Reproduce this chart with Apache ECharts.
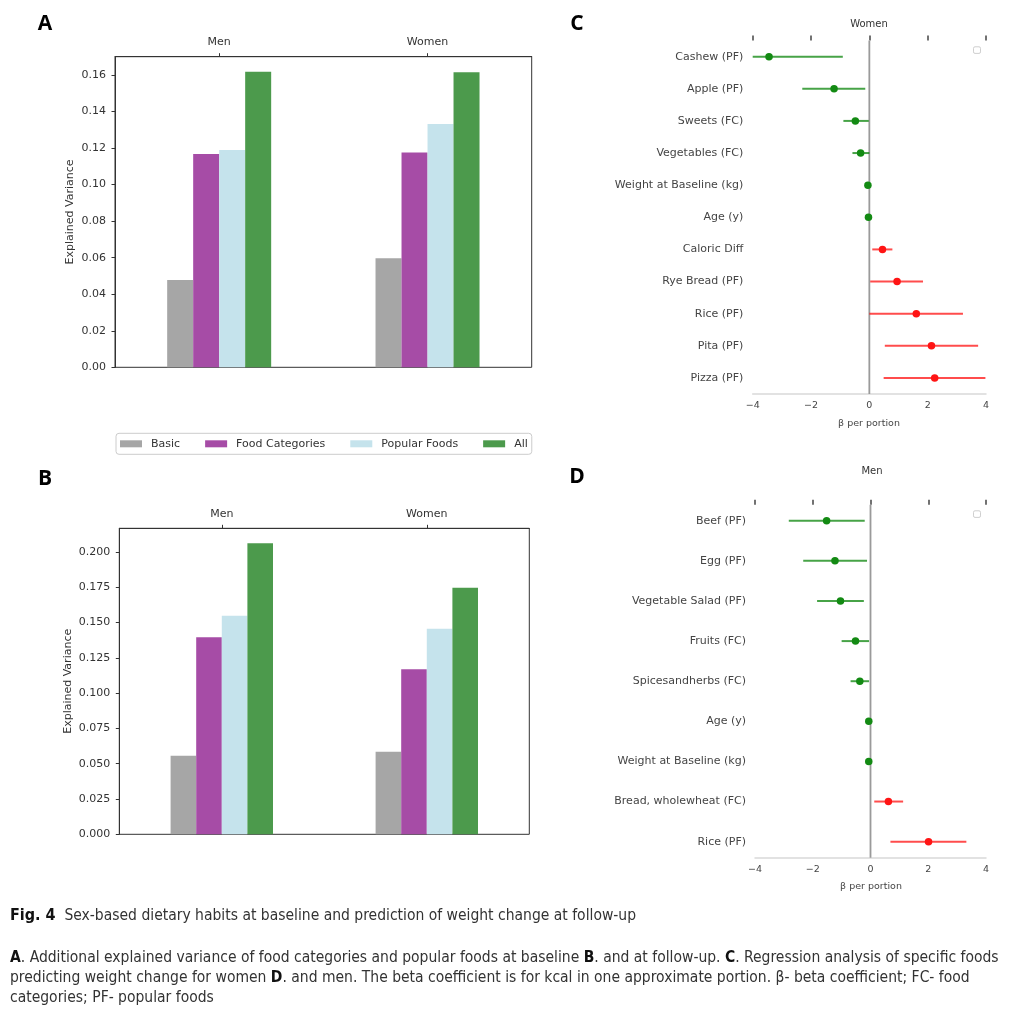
<!DOCTYPE html>
<html>
<head>
<meta charset="utf-8">
<script src="https://cdn.jsdelivr.net/npm/echarts@6/dist/echarts.min.js"></script>
<style>
html,body{margin:0;padding:0;background:#fff;}
#chart{width:1024px;height:1019px;}
</style>
</head>
<body>
<div id="chart"></div>
<script>
// ---------- data ----------
const groups = ['Men', 'Women'];
const seriesNames = ['Basic', 'Food Categories', 'Popular Foods', 'All'];

// Panel A: baseline explained variance
const baselineBasic = [0.0478, 0.0597];
const baselineFoodCategories = [0.1168, 0.1175];
const baselinePopularFoods = [0.1189, 0.1332];
const baselineAll = [0.1618, 0.1615];
const baselineTicks = [0, 0.02, 0.04, 0.06, 0.08, 0.10, 0.12, 0.14, 0.16];

// Panel B: follow-up explained variance
const followupBasic = [0.0557, 0.0585];
const followupFoodCategories = [0.1396, 0.1169];
const followupPopularFoods = [0.1549, 0.1457];
const followupAll = [0.2062, 0.1747];
const followupTicks = [0, 0.025, 0.05, 0.075, 0.1, 0.125, 0.15, 0.175, 0.2];

// Panel C: women regression
const womenFoods = ['Cashew (PF)', 'Apple (PF)', 'Sweets (FC)', 'Vegetables (FC)', 'Weight at Baseline (kg)', 'Age (y)', 'Caloric Diff', 'Rye Bread (PF)', 'Rice (PF)', 'Pita (PF)', 'Pizza (PF)'];
const womenBeta = [-3.44, -1.21, -0.48, -0.30, -0.05, -0.03, 0.45, 0.95, 1.61, 2.13, 2.24];
const womenLow = [-4.00, -2.30, -0.89, -0.58, -0.07, -0.05, 0.10, 0.03, 0.00, 0.53, 0.49];
const womenHigh = [-0.91, -0.14, -0.02, 0.00, -0.03, -0.01, 0.79, 1.84, 3.21, 3.73, 3.98];

// Panel D: men regression
const menFoods = ['Beef (PF)', 'Egg (PF)', 'Vegetable Salad (PF)', 'Fruits (FC)', 'Spicesandherbs (FC)', 'Age (y)', 'Weight at Baseline (kg)', 'Bread, wholewheat (FC)', 'Rice (PF)'];
const menBeta = [-1.52, -1.23, -1.04, -0.52, -0.37, -0.06, -0.06, 0.62, 2.01];
const menLow = [-2.83, -2.33, -1.85, -1.00, -0.69, -0.08, -0.08, 0.13, 0.69];
const menHigh = [-0.20, -0.12, -0.23, -0.05, -0.05, -0.04, -0.04, 1.13, 3.32];

const betaTicks = [-4, -2, 0, 2, 4];
const womenRowRange = [-0.5, 10.5];
const menRowRange = [-0.4, 8.4];

// ---------- style ----------
const FF = 'DejaVu Sans';
const barColors = ['#a6a6a6', '#a64ca6', '#c5e3ec', '#4c9a4c'];
const GREEN_DOT = '#138a13', GREEN_LINE = 'rgba(0,128,0,0.72)';
const RED_DOT = '#ff1414', RED_LINE = 'rgba(255,0,0,0.7)';

const chart = echarts.init(document.getElementById('chart'), null, {renderer: 'canvas'});

function catAxis(gi) {
  return {
    gridIndex: gi, type: 'category', data: groups, position: 'top',
    axisLine: {show: true, onZero: false, lineStyle: {color: '#333', width: 1}},
    axisTick: {show: true, alignWithLabel: true, length: 3.5, lineStyle: {color: '#333'}},
    axisLabel: {color: '#333', fontSize: 11, fontFamily: FF, margin: 9},
    splitLine: {show: false}
  };
}
function varAxis(gi, max, interval, ticks, dec) {
  return {
    gridIndex: gi, type: 'value', min: 0, max: max, interval: interval,
    axisLine: {show: true, onZero: false, lineStyle: {color: '#333', width: 1}},
    axisTick: {show: true, length: 3.5, lineStyle: {color: '#333'}, customValues: ticks},
    axisLabel: {color: '#333', fontSize: 11, fontFamily: FF, margin: 9, customValues: ticks,
      formatter: v => Number(v).toFixed(dec)},
    splitLine: {show: false}
  };
}
function betaAxes(gi) {
  return [{
    gridIndex: gi, type: 'value', min: -4, max: 4, interval: 2, position: 'bottom',
    axisLine: {show: true, onZero: false, lineStyle: {color: '#d9d9d9', width: 1.5}},
    axisTick: {show: false},
    axisLabel: {color: '#444', fontSize: 9.5, fontFamily: FF, margin: 7, customValues: betaTicks,
      formatter: v => String(v).replace('-', '\u2212')},
    splitLine: {show: false}
  }, {
    gridIndex: gi, type: 'value', min: -4, max: 4, interval: 2, position: 'top',
    axisLine: {show: false, onZero: false},
    axisTick: {show: true, length: 5, lineStyle: {color: '#444', width: 1.5}, customValues: betaTicks},
    axisLabel: {show: false},
    splitLine: {show: false}
  }];
}
function rowAxis(gi, names, range, margin) {
  return {
    gridIndex: gi, type: 'value', min: range[0], max: range[1], inverse: true,
    axisLine: {show: false, onZero: false}, axisTick: {show: false},
    axisLabel: {color: '#444', fontSize: 11, fontFamily: FF, margin: margin,
      customValues: names.map((_, i) => i),
      formatter: v => (names[Math.round(v)] || '')},
    splitLine: {show: false}
  };
}
function barSeries(ax, arrays, width) {
  return arrays.map((arr, k) => ({
    name: seriesNames[k], type: 'bar', xAxisIndex: ax, yAxisIndex: ax,
    data: arr, barWidth: width, barGap: '0%',
    itemStyle: {color: barColors[k]}
  }));
}
function errRender(params, api) {
  const y = api.value(2);
  const p1 = api.coord([api.value(0), y]);
  const p2 = api.coord([api.value(1), y]);
  return {
    type: 'line',
    shape: {x1: p1[0], y1: p1[1], x2: p2[0], y2: p2[1]},
    style: {stroke: api.value(3) > 0 ? RED_LINE : GREEN_LINE, lineWidth: 2}
  };
}
function forestSeries(xa, ya, names, beta, low, high, range) {
  return [{
    type: 'line', xAxisIndex: xa, yAxisIndex: ya, z: 1, silent: true,
    data: [[0, range[0]], [0, range[1]]], symbol: 'none',
    lineStyle: {color: '#9a9a9a', width: 1.8}
  }, {
    type: 'custom', xAxisIndex: xa, yAxisIndex: ya, z: 2,
    renderItem: errRender, encode: {x: 0, y: 2},
    data: names.map((_, i) => [low[i], high[i], i, beta[i]])
  }, {
    type: 'scatter', xAxisIndex: xa, yAxisIndex: ya, z: 3,
    symbolSize: 7.5,
    data: names.map((_, i) => [beta[i], i]),
    itemStyle: {opacity: 1, color: p => (p.value[0] > 0 ? RED_DOT : GREEN_DOT)}
  }];
}

function txt(text, x, y, size, opts) {
  opts = opts || {};
  return {
    type: 'text', x: x, y: y, rotation: opts.rotation || 0, silent: true,
    style: {
      text: text, fontSize: size, fontFamily: opts.family || FF,
      fontWeight: opts.weight || 'normal', fill: opts.fill || '#333',
      textAlign: opts.align || 'center', textVerticalAlign: 'middle',
      rich: opts.rich
    }
  };
}

const capFont = '"DejaVu Sans Condensed", "Liberation Sans Narrow", sans-serif';
const CAP = 15.5;
const capRich = {
  b: {fontWeight: 'bold', fontFamily: capFont, fontSize: CAP, fill: '#111'},
  f: {fontWeight: 'bold', fontFamily: capFont, fontSize: 16, fill: '#111'}
};

const option = {
  animation: false,
  backgroundColor: '#fff',
  textStyle: {fontFamily: FF},
  grid: [
    {left: 115, top: 56.7, width: 416.7, height: 310.6, show: true, borderColor: '#333', borderWidth: 1, backgroundColor: 'transparent', outerBoundsMode: 'none'},
    {left: 119.3, top: 528.3, width: 410, height: 306, show: true, borderColor: '#333', borderWidth: 1, backgroundColor: 'transparent', outerBoundsMode: 'none'},
    {left: 752.7, top: 40.6, width: 233.3, height: 353.4, outerBoundsMode: 'none'},
    {left: 755, top: 504.7, width: 231, height: 353, outerBoundsMode: 'none'}
  ],
  xAxis: [catAxis(0), catAxis(1)].concat(betaAxes(2), betaAxes(3)),
  yAxis: [
    varAxis(0, 0.17, 0.02, baselineTicks, 2),
    varAxis(1, 0.2168, 0.025, followupTicks, 3),
    rowAxis(2, womenFoods, womenRowRange, 9.4),
    rowAxis(3, menFoods, menRowRange, 9)
  ],
  legend: {
    data: seriesNames, left: 116, top: 433.3, orient: 'horizontal',
    icon: 'rect', itemWidth: 22, itemHeight: 7, itemGap: 25,
    padding: [5, 4, 5, 4], borderColor: '#cccccc', borderWidth: 1, borderRadius: 3,
    backgroundColor: '#fff',
    textStyle: {color: '#333', fontSize: 11, fontFamily: FF, padding: [0, 0, 0, 4]},
    selectedMode: false
  },
  series: [].concat(
    barSeries(0, [baselineBasic, baselineFoodCategories, baselinePopularFoods, baselineAll], 26),
    barSeries(1, [followupBasic, followupFoodCategories, followupPopularFoods, followupAll], 25.6),
    forestSeries(2, 2, womenFoods, womenBeta, womenLow, womenHigh, womenRowRange),
    forestSeries(4, 3, menFoods, menBeta, menLow, menHigh, menRowRange)
  ),
  graphic: [
    txt('A', 45, 24, 21, {weight: 'bold', family: '"Open Sans", sans-serif', fill: '#000'}),
    txt('B', 45, 479, 21, {weight: 'bold', family: '"Open Sans", sans-serif', fill: '#000'}),
    txt('C', 577, 24, 21, {weight: 'bold', family: '"Open Sans", sans-serif', fill: '#000'}),
    txt('D', 577, 477, 21, {weight: 'bold', family: '"Open Sans", sans-serif', fill: '#000'}),
    txt('Explained Variance', 70, 212, 11, {rotation: Math.PI / 2}),
    txt('Explained Variance', 68.3, 681.3, 11, {rotation: Math.PI / 2}),
    txt('Women', 869, 24, 10),
    txt('Men', 872, 471, 10),
    txt('\u03b2 per portion', 869, 424, 9.5, {fill: '#444'}),
    txt('\u03b2 per portion', 871, 887, 9.5, {fill: '#444'}),
    {type: 'rect', silent: true, shape: {x: 973.5, y: 46.8, width: 7, height: 6.6, r: 1.5}, style: {fill: '#fff', stroke: '#cfcfcf', lineWidth: 1}},
    {type: 'rect', silent: true, shape: {x: 973.5, y: 510.8, width: 7, height: 6.6, r: 1.5}, style: {fill: '#fff', stroke: '#cfcfcf', lineWidth: 1}},
    txt('{f|Fig. 4}  Sex-based dietary habits at baseline and prediction of weight change at follow-up', 10, 916, CAP, {align: 'left', family: capFont, fill: '#333', rich: capRich}),
    txt('{b|A}. Additional explained variance of food categories and popular foods at baseline {b|B}. and at follow-up. {b|C}. Regression analysis of specific foods', 10, 958, CAP, {align: 'left', family: capFont, fill: '#333', rich: capRich}),
    txt('predicting weight change for women {b|D}. and men. The beta coefficient is for kcal in one approximate portion. \u03b2- beta coefficient; FC- food', 10, 978, CAP, {align: 'left', family: capFont, fill: '#333', rich: capRich}),
    txt('categories; PF- popular foods', 10, 998, CAP, {align: 'left', family: capFont, fill: '#333', rich: capRich})
  ]
};
chart.setOption(option);
</script>
</body>
</html>
